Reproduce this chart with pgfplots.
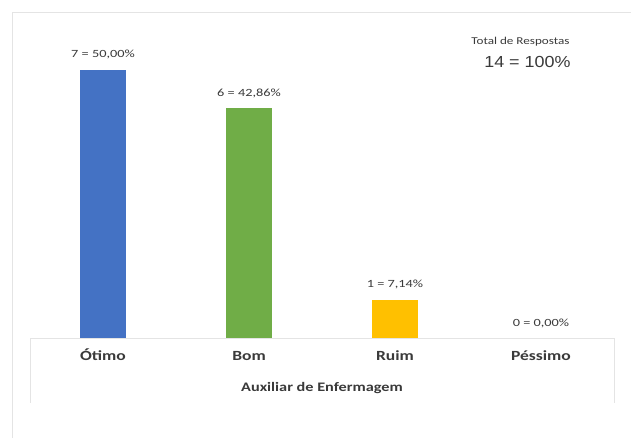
\documentclass[border=0pt]{standalone}
\usepackage{pgfplots}
\pgfplotsset{compat=1.18}
\usepackage{fontspec}
\setmainfont{Carlito}[FakeStretch=1.25]
\newfontfamily\lblfont{Carlito}[FakeStretch=1.3]
\newfontfamily\arialf{Liberation Sans}[FakeStretch=1.12]
\definecolor{cblue}{HTML}{4472C4}
\definecolor{cgreen}{HTML}{70AD47}
\definecolor{cyellow}{HTML}{FFC000}
\definecolor{txt}{HTML}{3A3A3A}
\definecolor{frame}{HTML}{E4E4E4}
\begin{document}
\begin{tikzpicture}[x=1pt,y=1pt]
\fill[white] (0,0) rectangle (631,438);
\useasboundingbox (0,0) rectangle (631,438);
\draw[frame, line width=0.8pt] (12,0) -- (12,426) -- (631,426);
\begin{axis}[
  at={(30pt,100pt)}, anchor=south west,
  scale only axis, width=584pt, height=318pt,
  xmin=-0.5, xmax=3.5, ymin=0, ymax=8.3,
  clip=false,
  axis line style={draw=none},
  axis x line*=bottom,
  axis y line=none,
  ytick=\empty,
  xtick={0,1,2,3},
  xticklabels={Ótimo,Bom,Ruim,Péssimo},
  xtick style={draw=none},
  xticklabel style={font=\fontsize{14}{16}\selectfont\bfseries, text=txt, yshift=-4pt, text height=11pt, text depth=3pt},
  xlabel={Auxiliar de Enfermagem},
  xlabel style={font=\fontsize{13}{15}\selectfont\bfseries, text=txt, yshift=-12pt},
  ybar, bar width=46pt, bar shift=0pt,
  nodes near coords,
  point meta=explicit symbolic,
  every node near coord/.append style={font=\lblfont\fontsize{11}{13}\selectfont, text=txt, yshift=7pt},
]
\addplot[fill=cblue, draw=none] coordinates {(0,7) [7 = 50,00\%]};
\addplot[fill=cgreen, draw=none] coordinates {(1,6) [6 = 42,86\%]};
\addplot[fill=cyellow, draw=none] coordinates {(2,1) [1 = 7,14\%]};
\addplot[fill=none, draw=none] coordinates {(3,0) [0 = 0,00\%]};
\end{axis}
\draw[frame, line width=0.9pt] (30,35) -- (30,100) -- (614,100) -- (614,35);
\node[anchor=east, font=\fontsize{10.5}{12}\selectfont, text=txt] at (573,396) {Total de Respostas};
\node[anchor=east, font=\arialf\fontsize{16}{18}\selectfont, text=txt] at (574,376) {14 = 100\%};
\end{tikzpicture}
\end{document}
